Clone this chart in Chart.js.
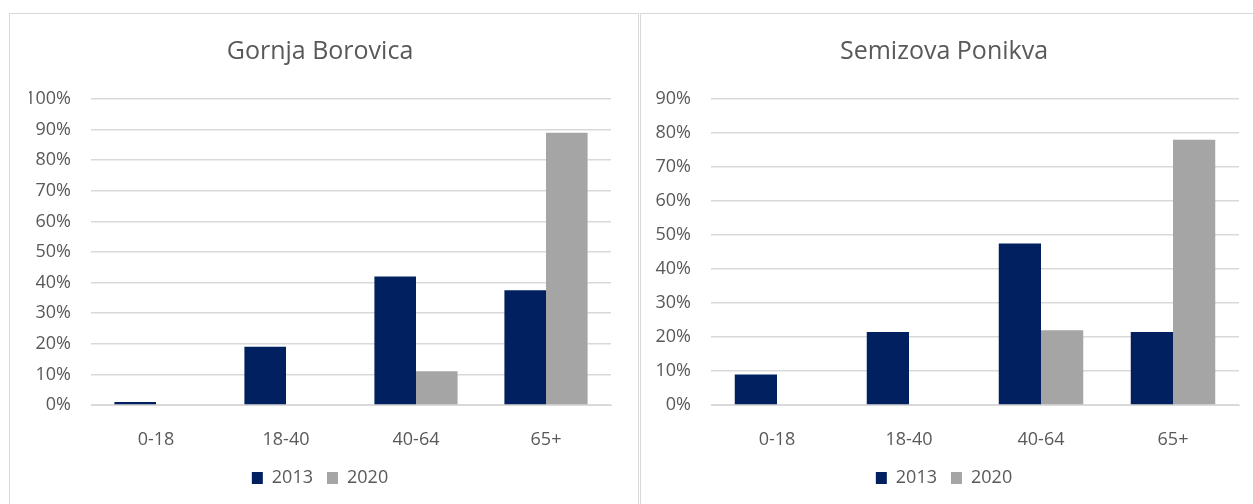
<!DOCTYPE html>
<html>
<head>
<meta charset="utf-8">
<script src="https://cdn.jsdelivr.net/npm/chart.js@4.4.1/dist/chart.umd.min.js"></script>
<style>
  html, body { margin: 0; padding: 0; background: #ffffff; }
  body { width: 1253px; height: 504px; position: relative; overflow: hidden; }
  .panel { position: absolute; top: 13px; height: 491px; border-top: 1px solid #d9d9d9; border-left: 1px solid #d9d9d9; box-sizing: border-box; }
  #leftPanel { left: 9px; width: 630px; border-right: 1px solid #d9d9d9; }
  #rightPanel { left: 640px; width: 613px; }
</style>
</head>
<body>
<div class="panel" id="leftPanel"><canvas id="borovicaChart"></canvas></div>
<div class="panel" id="rightPanel"><canvas id="ponikvaChart"></canvas></div>
<script>
// Age groups and shares (%) per village
const ageGroups = ["0-18", "18-40", "40-64", "65+"];
const seriesLabels = ["2013", "2020"];

const borovica2013 = [1, 19, 42, 37.5];
const borovica2020 = [0, 0, 11, 89];

const ponikva2013 = [9, 21.5, 47.5, 21.5];
const ponikva2020 = [0, 0, 22, 78];

const borovicaTicks = [0, 10, 20, 30, 40, 50, 60, 70, 80, 90, 100];
const ponikvaTicks = [0, 10, 20, 30, 40, 50, 60, 70, 80, 90];

const colors = {
  navy: "#002060",
  gray: "#a5a5a5",
  grid: "#d9d9d9",
  text: "#595959",
};

const fontFamily = "'Open Sans', 'Noto Sans', sans-serif";

function buildChart(canvasId, title, data2013, data2020, ticks, padLeft, padRight) {
  const ctx = document.getElementById(canvasId);
  return new Chart(ctx, {
    type: "bar",
    data: {
      labels: ageGroups,
      datasets: [
        { label: seriesLabels[0], data: data2013, backgroundColor: colors.navy },
        { label: seriesLabels[1], data: data2020, backgroundColor: colors.gray },
      ],
    },
    options: {
      responsive: true,
      maintainAspectRatio: false,
      animation: false,
      categoryPercentage: 0.64,
      barPercentage: 1,
      layout: { padding: { top: 23, left: padLeft, right: padRight, bottom: 7 } },
      plugins: {
        title: {
          display: true,
          text: title,
          color: colors.text,
          font: { family: fontFamily, size: 25, weight: "normal" },
          padding: { top: 0, bottom: 32 },
        },
        legend: {
          position: "bottom",
          labels: {
            color: colors.text,
            font: { family: fontFamily, size: 18 },
            boxWidth: 11,
            boxHeight: 12,
            padding: 14,
          },
        },
        tooltip: { enabled: false },
      },
      scales: {
        x: {
          grid: { display: false },
          border: { color: colors.grid },
          ticks: { color: colors.text, font: { family: fontFamily, size: 18 }, padding: 16 },
          afterFit(scale) { scale.height = 50; },
        },
        y: {
          min: 0,
          max: ticks[ticks.length - 1],
          afterBuildTicks(scale) { scale.ticks = ticks.map((v) => ({ value: v })); },
          grid: { color: colors.grid, lineWidth: 1.5, drawTicks: false },
          border: { display: false },
          ticks: {
            color: colors.text,
            font: { family: fontFamily, size: 18 },
            padding: 20,
            callback: (value) => value + "%",
          },
          afterFit(scale) { scale.width = 62; },
        },
      },
    },
  });
}

buildChart("borovicaChart", "Gornja Borovica", borovica2013, borovica2020, borovicaTicks, 19, 27);
buildChart("ponikvaChart", "Semizova Ponikva", ponikva2013, ponikva2020, ponikvaTicks, 8, 14);
</script>
</body>
</html>
